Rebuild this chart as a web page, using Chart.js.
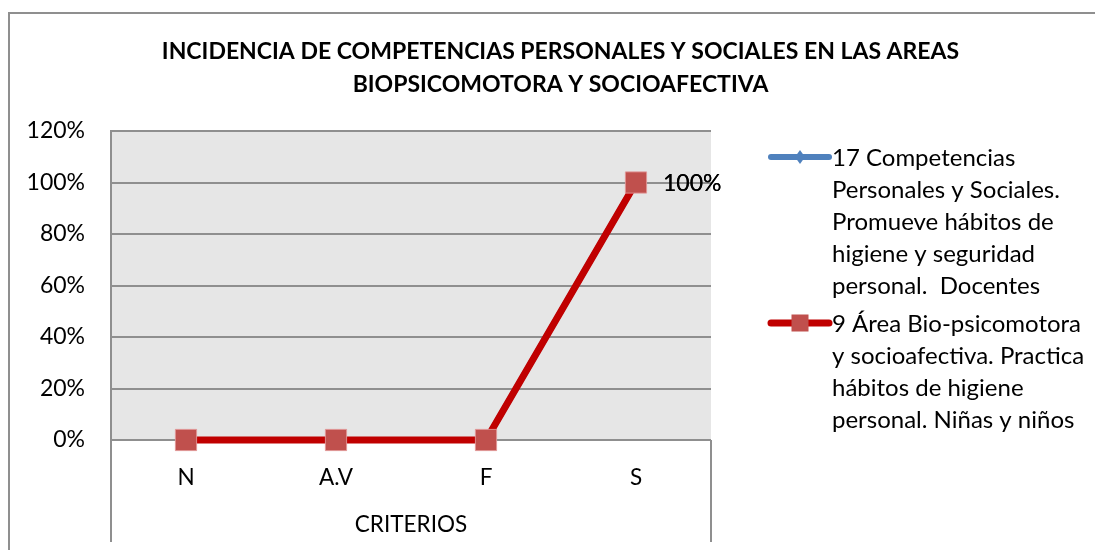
<!DOCTYPE html>
<html>
<head>
<meta charset="utf-8">
<script src="https://cdn.jsdelivr.net/npm/chart.js@4.4.1/dist/chart.umd.min.js"></script>
<style>
    html, body { margin: 0; padding: 0; background: #fff; }
    #wrap { width: 1095px; height: 550px; }
</style>
</head>
<body>
<div id="wrap"><canvas id="grafico" width="1095" height="550"></canvas></div>
<script>
const criterios = ['N', 'A.V', 'F', 'S'];
const docentes = [0, 0, 0, 1];
const ninos = [0, 0, 0, 1];
const nombreDocentes = ['17 Competencias', 'Personales y Sociales.', 'Promueve hábitos de', 'higiene y seguridad', 'personal.  Docentes'];
const nombreNinos = ['9 Área Bio-psicomotora', 'y socioafectiva. Practica', 'hábitos de higiene', 'personal. Niñas y niños'];
const titulo = ['INCIDENCIA DE COMPETENCIAS PERSONALES Y SOCIALES EN LAS AREAS', 'BIOPSICOMOTORA Y SOCIOAFECTIVA'];
const tituloEje = 'CRITERIOS';
const indiceEtiqueta = 3;   // only the S point carries a value label

const FUENTE = 'Lato, "Open Sans", sans-serif';
const GRIS = '#8f8f8f';

function pct(v) {
    return Math.round(v * 100) + '%';
}

// gray plot background plus the outer frame lines
const fondo = {
    id: 'fondo',
    beforeDraw(chart) {
        const {ctx, chartArea: a} = chart;
        ctx.save();
        ctx.fillStyle = '#e6e6e6';
        ctx.fillRect(a.left, a.top, a.right - a.left, a.bottom - a.top);
        ctx.strokeStyle = GRIS;
        ctx.lineWidth = 2;
        ctx.beginPath();
        ctx.moveTo(9, 550);
        ctx.lineTo(9, 13);
        ctx.lineTo(1095, 13);
        ctx.moveTo(a.left, a.bottom);
        ctx.lineTo(a.left, 542);
        ctx.moveTo(a.right, a.bottom);
        ctx.lineTo(a.right, 542);
        ctx.stroke();
        ctx.restore();
    }
};

const etiquetas = {
    id: 'etiquetas',
    afterDatasetsDraw(chart) {
        const ctx = chart.ctx;
        ctx.save();
        ctx.font = '23px ' + FUENTE;
        ctx.fillStyle = '#000';
        ctx.textAlign = 'left';
        ctx.textBaseline = 'middle';
        chart.data.datasets.forEach((ds, i) => {
            const p = chart.getDatasetMeta(i).data[indiceEtiqueta];
            ctx.fillText(pct(ds.data[indiceEtiqueta]), p.x + 27, p.y + 1);
        });
        ctx.restore();
    }
};

// legend with wrapped labels, drawn to the right of the plot
const leyenda = {
    id: 'leyenda',
    afterDraw(chart) {
        const ctx = chart.ctx;
        const x0 = 771, x1 = 829, xt = 832, paso = 32;
        let y = 157;
        ctx.save();
        ctx.font = '24px ' + FUENTE;
        ctx.textBaseline = 'middle';
        ctx.textAlign = 'left';
        chart.data.datasets.forEach(ds => {
            ctx.strokeStyle = ds.borderColor;
            ctx.lineWidth = ds.borderWidth;
            ctx.lineCap = 'round';
            ctx.beginPath();
            ctx.moveTo(x0, y);
            ctx.lineTo(x1, y);
            ctx.stroke();
            ctx.fillStyle = ds.pointBackgroundColor;
            const m = (x0 + x1) / 2;
            if (ds.pointStyle === 'rect') {
                ctx.fillRect(m - 8.5, y - 8.5, 17, 17);
            } else {
                ctx.beginPath();
                ctx.moveTo(m, y - 7);
                ctx.lineTo(m + 5, y);
                ctx.lineTo(m, y + 7);
                ctx.lineTo(m - 5, y);
                ctx.closePath();
                ctx.fill();
            }
            ctx.fillStyle = '#000';
            ds.label.forEach((linea, k) => ctx.fillText(linea, xt, y + k * paso + 1));
            y += ds.label.length * paso + 6;
        });
        ctx.restore();
    }
};

new Chart(document.getElementById('grafico'), {
    type: 'line',
    data: {
        labels: criterios,
        datasets: [{
            label: nombreDocentes,
            data: docentes,
            borderColor: '#4f81bd',
            borderWidth: 6,
            pointStyle: 'rectRot',
            pointRadius: 6,
            pointBackgroundColor: '#4f81bd',
            pointBorderColor: '#4f81bd',
            clip: false,
            order: 2
        }, {
            label: nombreNinos,
            data: ninos,
            borderColor: '#c00000',
            borderWidth: 7,
            pointStyle: 'rect',
            pointRadius: 15,
            pointBackgroundColor: '#c0504d',
            pointBorderColor: 'rgba(225,150,150,0.9)',
            pointBorderWidth: 1,
            clip: false,
            order: 1
        }]
    },
    options: {
        responsive: false,
        animation: false,
        events: [],
        layout: { padding: { top: 0, left: 26, right: 0, bottom: 0 } },
        plugins: {
            legend: { display: false },
            tooltip: { enabled: false },
            title: {
                display: true,
                text: titulo,
                color: '#000',
                font: { family: FUENTE, size: 23, weight: 'bold', lineHeight: '33px' },
                padding: { top: 35.5, bottom: 29.5 }
            }
        },
        scales: {
            x: {
                offset: true,
                grid: { display: false },
                border: { display: false },
                ticks: { color: '#000', font: { family: FUENTE, size: 22.5 }, padding: 16 },
                title: {
                    display: true,
                    text: tituloEje,
                    color: '#000',
                    font: { family: FUENTE, size: 22.5 },
                    padding: { top: 0, bottom: 12 }
                },
                afterFit(s) { s.height = 110; }
            },
            y: {
                min: 0,
                max: 1.2,
                grid: { color: GRIS, lineWidth: 2, drawTicks: false },
                border: { display: true, color: GRIS, width: 2 },
                ticks: {
                    stepSize: 0.2,
                    color: '#000',
                    font: { family: FUENTE, size: 23 },
                    padding: 26,
                    callback: v => pct(v)
                },
                afterFit(s) { s.width = 85; }
            },
            // empty right-hand axis that keeps room for the legend
            margen: {
                type: 'linear',
                position: 'right',
                grid: { display: false, drawOnChartArea: false },
                border: { display: false },
                ticks: { display: false },
                afterFit(s) { s.width = 384; }
            }
        }
    },
    plugins: [fondo, etiquetas, leyenda]
});
</script>
</body>
</html>
